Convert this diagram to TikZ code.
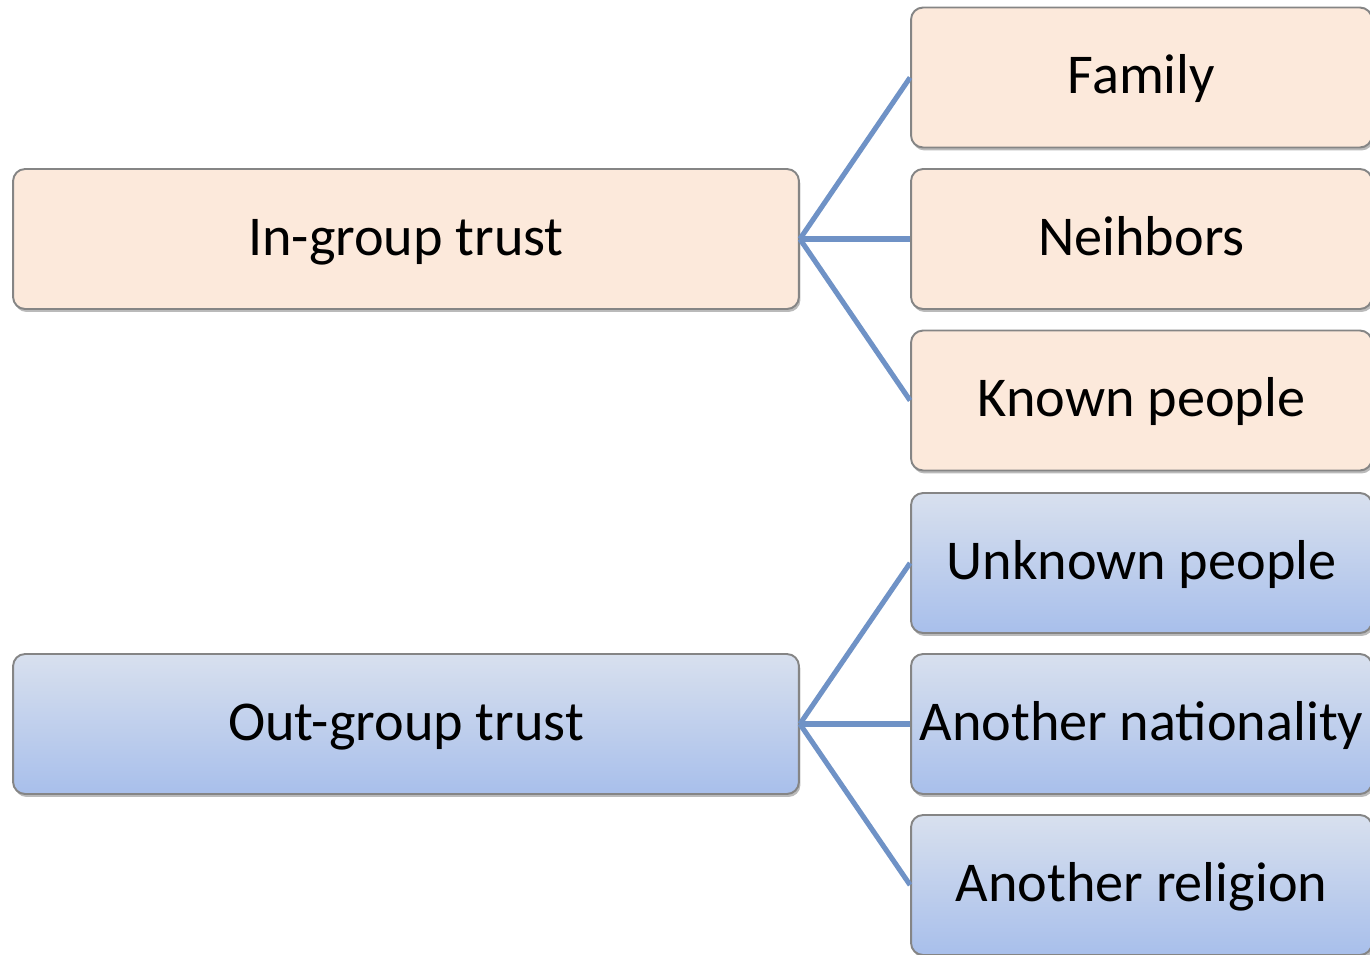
\documentclass[tikz,border=0pt]{standalone}
\usepackage{fontspec}
\setmainfont{Carlito}
\usetikzlibrary{shadows}

\definecolor{peach}{HTML}{FCE9DB}
\definecolor{bluetop}{HTML}{D8E0EE}
\definecolor{bluebot}{HTML}{A8BFEB}
\definecolor{boxline}{HTML}{858585}
\definecolor{linkblue}{HTML}{6F92C6}

\tikzset{
    box/.style={draw=boxline, line width=1.1pt, rounded corners=0.24cm,
        minimum height=2.8cm, inner sep=0pt, align=center,
        text height=0.84cm, text depth=0.2cm,
        font=\fontsize{32}{38}\selectfont,
        drop shadow={shadow xshift=0.03cm, shadow yshift=-0.06cm, fill=black!60, opacity=0.45}},
    ingroup/.style={box, fill=peach},
    outgroup/.style={box, top color=bluetop, bottom color=bluebot},
    bigbox/.style={minimum width=15.72cm},
    smallbox/.style={minimum width=9.22cm},
    link/.style={draw=linkblue, line width=2.9pt}
}

\begin{document}
\begin{tikzpicture}[x=0.02cm, y=-0.02cm]

    \useasboundingbox (0,0) rectangle (1370,954);

    \node[ingroup, bigbox] (In) at (406,239) {In-group trust};
    \node[outgroup, bigbox] (Out) at (406,724) {Out-group trust};

    \node[ingroup, smallbox] (Fam) at (1141.5,77.5) {Family};
    \node[ingroup, smallbox] (Nei) at (1141.5,239) {Neihbors};
    \node[ingroup, smallbox] (Known) at (1141.5,400.5) {Known people};

    \node[outgroup, smallbox] (Unknown) at (1141.5,563) {Unknown people};
    \node[outgroup, smallbox] (Nat) at (1141.5,724) {Another nationality};
    \node[outgroup, smallbox] (Rel) at (1141.5,885) {Another religion};

    \draw[link] (In.east) -- (Fam.west);
    \draw[link] (In.east) -- (Nei.west);
    \draw[link] (In.east) -- (Known.west);

    \draw[link] (Out.east) -- (Unknown.west);
    \draw[link] (Out.east) -- (Nat.west);
    \draw[link] (Out.east) -- (Rel.west);

\end{tikzpicture}
\end{document}
